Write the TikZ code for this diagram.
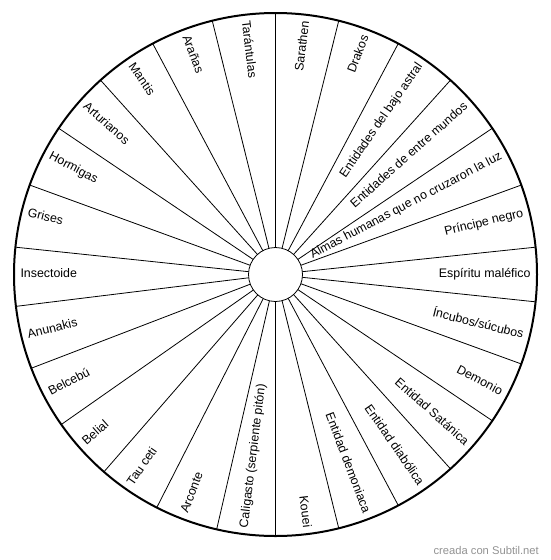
\documentclass[tikz,border=0pt]{standalone}
\usepackage{fontspec}
\setmainfont{Liberation Sans}
\begin{document}
\begin{tikzpicture}[x=1pt,y=1pt,
  lab/.style={font=\fontsize{12.4}{14}\selectfont, inner sep=0pt, outer sep=0pt, text height=9pt, text depth=3pt},
  spoke/.style={line width=0.8pt, draw=black}]
\useasboundingbox (0,0) rectangle (550,-560);
\fill[white] (0,0) rectangle (550,-560);
\begin{scope}[shift={(275.5,-274.5)}]
  \node[circle, draw, line width=2pt, minimum size=523pt, inner sep=0pt, outer sep=0pt] (rim) at (0,0) {};
  \node[circle, draw, line width=0.8pt, minimum size=54pt, inner sep=0pt, outer sep=0pt] (hub) at (0,0) {};
  \foreach \i in {0,...,25} {
    \pgfmathsetmacro\b{90-\i*13.846154}
    \draw[spoke] (hub.\b) -- (rim.\b);
  }
  \foreach \t [count=\k] in {Sarathen, Drakos, Entidades del bajo astral, Entidades de entre mundos,
      Almas humanas que no cruzaron la luz, Príncipe negro, Espíritu maléfico, {Íncubos/súcubos},
      Demonio, Entidad Satánica, Entidad diabólica, Entidad demoniaca, Kouei,
      Caligasto (serpiente pitón), Arconte, Tau ceti, Belial, Belcebú, Anunakis, Insectoide,
      Grises, Hormigas, Arturianos, Mantis, Arañas, Tarántulas} {
    \pgfmathsetmacro\a{90-13.846154*(\k-0.5)}
    \ifnum\k<14
      \node[lab, rotate=\a, anchor=east] (l\k) at (\a:255) {\t};
    \else
      \node[lab, rotate=\a+180, anchor=west] (l\k) at (\a:255) {\t};
    \fi
  }
\end{scope}
\node[font=\fontsize{11.2}{13}\selectfont, text=gray!85, anchor=east, inner sep=0pt] (wm) at (539,-550) {creada con Subtil.net};
\end{tikzpicture}
\end{document}
